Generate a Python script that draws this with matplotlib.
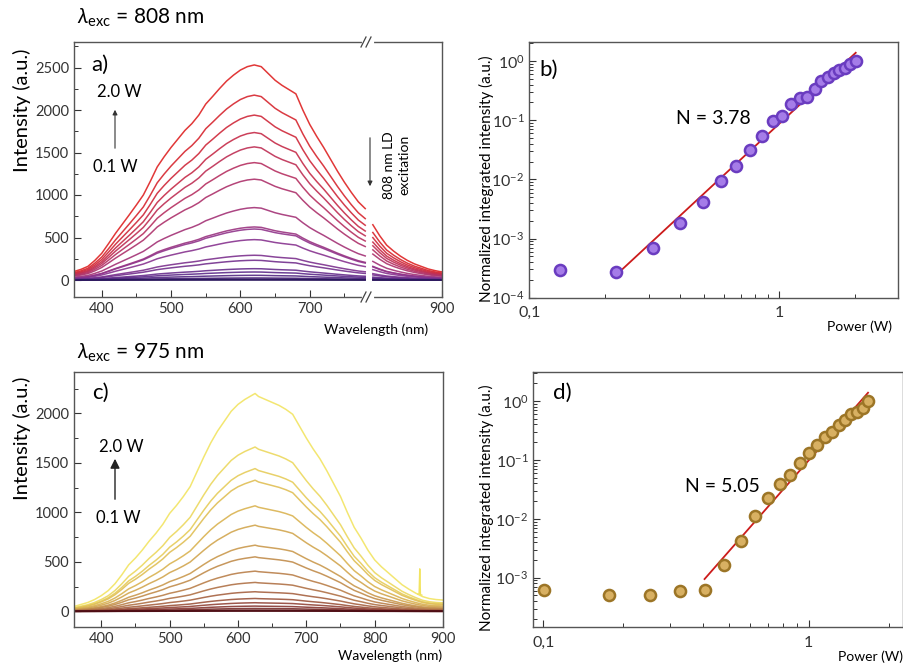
import numpy as np
import matplotlib
matplotlib.use('Agg')
import matplotlib.pyplot as plt
from matplotlib.colors import LinearSegmentedColormap
from matplotlib.lines import Line2D
from matplotlib.ticker import MultipleLocator, FixedLocator, NullFormatter, LogLocator, FuncFormatter

plt.rcParams['font.family'] = ['Lato', 'DejaVu Sans']
plt.rcParams['mathtext.fontset'] = 'custom'
plt.rcParams['mathtext.rm'] = 'Lato'
plt.rcParams['mathtext.it'] = 'Lato:italic'
plt.rcParams['mathtext.bf'] = 'Lato:bold'

# ---------------- data: panel a (808 nm excitation) ----------------
wl_a_left = [360, 370, 380, 390, 400, 410, 420, 430, 440, 450, 460, 470, 480, 490, 500,
             510, 520, 530, 540, 550, 560, 570, 580, 590, 600, 610, 620, 630, 640, 650,
             660, 670, 680, 690, 700, 710, 720, 730, 740, 750, 760, 770, 780]
top_a_left = [100, 125, 160, 230, 314, 430, 550, 660, 770, 883, 1000, 1160, 1330, 1450, 1560,
              1660, 1760, 1840, 1940, 2070, 2160, 2253, 2340, 2410, 2470, 2510, 2530, 2510, 2430, 2350,
              2290, 2240, 2190, 2000, 1830, 1690, 1560, 1420, 1280, 1150, 1030, 920, 840]
wl_a_right = [800, 810, 820, 830, 840, 850, 860, 870, 880, 890, 900]
top_a_right = [650, 520, 410, 340, 280, 230, 190, 160, 130, 110, 95]
peaks_a = [2530, 2175, 1940, 1735, 1566, 1381, 1186, 852, 624, 600, 475, 291, 232, 133, 94, 55, 24, 10, 4, 0]

# ---------------- data: panel c (975 nm excitation) ----------------
wl_c = [360, 370, 380, 390, 400, 410, 420, 430, 440, 450, 460, 470, 480, 490, 500,
        510, 520, 530, 540, 550, 560, 570, 580, 590, 600, 610, 620, 625, 630, 640,
        650, 660, 670, 680, 690, 700, 710, 720, 730, 740, 750, 760, 770, 780, 790,
        800, 810, 820, 830, 840, 850, 860, 870, 880, 890, 900]
top_c = [50, 70, 90, 120, 160, 210, 280, 370, 470, 540, 620, 710, 790, 880, 990,
         1070, 1160, 1260, 1410, 1560, 1700, 1820, 1920, 2020, 2090, 2140, 2180, 2200, 2170, 2140,
         2110, 2080, 2040, 1990, 1870, 1750, 1640, 1540, 1420, 1290, 1160, 1000, 850, 740, 620,
         520, 450, 390, 330, 270, 225, 185, 150, 130, 120, 115]
spike_wl = [863, 865, 866, 867, 869]
spike_val = [175, 175, 430, 170, 165]
peaks_c = [2200, 1660, 1442, 1325, 1066, 871, 669, 551, 407, 293, 199, 131, 88, 54, 30, 14, 5, 0]

# ---------------- data: panel b ----------------
power_b = [0.133, 0.222, 0.311, 0.402, 0.493, 0.584, 0.671, 0.763, 0.850, 0.940, 1.025,
           1.117, 1.206, 1.294, 1.389, 1.472, 1.566, 1.655, 1.738, 1.825, 1.917, 2.02]
int_b = [2.9e-4, 2.7e-4, 6.8e-4, 1.83e-3, 4.1e-3, 9.5e-3, 0.0168, 0.0317, 0.0547, 0.098, 0.117,
         0.188, 0.237, 0.243, 0.332, 0.459, 0.543, 0.635, 0.695, 0.761, 0.879, 1.0]
fit_b_x = [0.222, 2.02]
fit_b_y = [2.4e-4, 1.38]

# ---------------- data: panel d ----------------
power_d = [0.1005, 0.177, 0.252, 0.327, 0.405, 0.480, 0.556, 0.628, 0.705, 0.780, 0.851,
           0.928, 1.003, 1.078, 1.152, 1.221, 1.297, 1.374, 1.443, 1.520, 1.602, 1.672]
int_d = [6.1e-4, 5.15e-4, 5.1e-4, 6.0e-4, 6.2e-4, 1.66e-3, 4.14e-3, 0.0113, 0.0222, 0.0395, 0.0561,
         0.0875, 0.129, 0.181, 0.245, 0.298, 0.386, 0.476, 0.601, 0.650, 0.750, 1.0]
fit_d_x = [0.405, 1.672]
fit_d_y = [9.5e-4, 1.385]

W, H = 904, 666
fig = plt.figure(figsize=(W / 100, H / 100), dpi=100)


def fx(x):
    return x / W


def fy(y):
    return 1 - y / H


def rect(l, t, r, b):
    return [fx(l), fy(b), (r - l) / W, (b - t) / H]


spine_col = '#555555'
tick_kw = dict(direction='in', colors='#333333', labelsize=10.5, width=0.8)


def style(ax):
    for s in ax.spines.values():
        s.set_color(spine_col)
        s.set_linewidth(1.0)
    ax.tick_params(which='major', length=5, **tick_kw)
    ax.tick_params(which='minor', length=3, direction='in', colors='#333333', width=0.7)


cmap_a = LinearSegmentedColormap.from_list('a', ['#2a185c', '#5a2a8a', '#8c3490', '#b8305e', '#de2222'])
cmap_c = LinearSegmentedColormap.from_list('c', ['#4a0a12', '#8a3a34', '#b57848', '#d8b050', '#f2e462'])

# ---------------- panel a (broken axis) ----------------
axL = fig.add_axes(rect(74, 42, 368, 297))
axR = fig.add_axes(rect(368, 42, 442, 297), sharey=axL)
style(axL)
style(axR)
axL.spines['right'].set_visible(False)
axR.spines['left'].set_visible(False)
axR.tick_params(axis='y', which='both', left=False, labelleft=False)
axL.set_xlim(360, 784)
axR.set_xlim(793, 900)
axL.set_ylim(-200, 2800)
axL.xaxis.set_major_locator(FixedLocator([400, 500, 600, 700]))
axL.xaxis.set_minor_locator(FixedLocator([450, 550, 650, 750]))
axR.xaxis.set_major_locator(FixedLocator([900]))
axR.xaxis.set_minor_locator(FixedLocator([]))
axL.yaxis.set_major_locator(MultipleLocator(500))
axL.yaxis.set_minor_locator(MultipleLocator(250))

n_a = len(peaks_a)
tl = np.array(top_a_left, float)
tr = np.array(top_a_right, float)
for i in range(n_a):
    col = cmap_a(1 - i / (n_a - 1))
    k = peaks_a[i] / peaks_a[0]
    axL.plot(wl_a_left, tl * k, color=col, lw=1.1, alpha=0.9)
    axR.plot(wl_a_right, tr * k, color=col, lw=1.1, alpha=0.9)

# break marks
for yy in (42, 297):
    fig.add_artist(Line2D([fx(364), fx(372)], [fy(yy), fy(yy)], color='white', lw=3,
                          transform=fig.transFigure))
    for dx in (-2.5, 2.5):
        fig.add_artist(Line2D([fx(366 + dx - 2.5), fx(366 + dx + 2.5)], [fy(yy + 5), fy(yy - 5)],
                              color='#444444', lw=0.9, transform=fig.transFigure))

# ---------------- panel b ----------------
axb = fig.add_axes(rect(529.3, 42, 898.3, 297.7))
style(axb)
axb.set_xscale('log')
axb.set_yscale('log')
axb.set_xlim(0.1, 2.99)
axb.set_ylim(1e-4, 2.1)
axb.plot(fit_b_x, fit_b_y, color='#cc1b1b', lw=1.3, zorder=3)
axb.plot(power_b, int_b, 'o', ms=8, mfc='#a57ce8', mec='#6a3cc0', mew=1.8, zorder=4)

# ---------------- panel c ----------------
axc = fig.add_axes(rect(74, 371.7, 443, 627.3))
style(axc)
axc.set_xlim(360, 900)
axc.set_ylim(-160, 2420)
axc.xaxis.set_major_locator(MultipleLocator(100))
axc.xaxis.set_minor_locator(MultipleLocator(50))
axc.yaxis.set_major_locator(MultipleLocator(500))
axc.yaxis.set_minor_locator(MultipleLocator(250))
n_c = len(peaks_c)
tc = np.array(top_c, float)
for i in range(n_c):
    col = cmap_c(1 - i / (n_c - 1))
    k = peaks_c[i] / peaks_c[0]
    axc.plot(wl_c, tc * k, color=col, lw=1.1, alpha=0.9)
axc.plot(spike_wl, spike_val, color=cmap_c(1.0), lw=1.0)

# ---------------- panel d ----------------
axd = fig.add_axes(rect(533.3, 371.7, 903.3, 627.3))
style(axd)
axd.set_xscale('log')
axd.set_yscale('log')
axd.set_xlim(0.0917, 2.27)
axd.set_ylim(1.44e-4, 3.15)
axd.plot(fit_d_x, fit_d_y, color='#cc1b1b', lw=1.3, zorder=3)
axd.plot(power_d, int_d, 'o', ms=8, mfc='#d8b062', mec='#9c7526', mew=1.8, zorder=4)


def pow_fmt(v, pos):
    e = int(round(np.log10(v)))
    return r'$10^{%d}$' % e


for ax in (axb, axd):
    ax.xaxis.set_major_locator(FixedLocator([0.1, 1]))
    ax.xaxis.set_major_formatter(FuncFormatter(lambda v, p: '0,1' if v < 0.5 else '1'))
    ax.xaxis.set_minor_locator(LogLocator(base=10, subs=np.arange(2, 10), numticks=20))
    ax.xaxis.set_minor_formatter(NullFormatter())
    ax.yaxis.set_major_locator(LogLocator(base=10, numticks=10))
    ax.yaxis.set_major_formatter(FuncFormatter(pow_fmt))
    ax.yaxis.set_minor_locator(LogLocator(base=10, subs=np.arange(2, 10), numticks=20))
    ax.yaxis.set_minor_formatter(NullFormatter())
    ax.tick_params(labelsize=11.5)
    ax.tick_params(axis='x', which='major', pad=6)

# ---------------- texts ----------------
def T(x, y, s, **kw):
    fig.text(fx(x), fy(y), s, **kw)


T(77, 18, r'$\lambda_{\mathrm{exc}}$ = 808 nm', fontsize=15, va='center', ha='left')
T(77, 353, r'$\lambda_{\mathrm{exc}}$ = 975 nm', fontsize=15, va='center', ha='left')
T(91, 65, 'a)', fontsize=16, va='center')
T(539, 70, 'b)', fontsize=16, va='center')
T(92, 393, 'c)', fontsize=16, va='center')
T(553, 393, 'd)', fontsize=16, va='center')

T(97, 92, '2.0 W', fontsize=12, va='center')
T(93, 167, '0.1 W', fontsize=12, va='center')
fig.add_artist(matplotlib.patches.FancyArrowPatch((fx(115), fy(151)), (fx(115), fy(107)),
                                                  transform=fig.transFigure, arrowstyle='-|>',
                                                  mutation_scale=7, color='#333333', lw=0.8))
T(99, 447, '2.0 W', fontsize=12, va='center')
T(96, 518, '0.1 W', fontsize=12, va='center')
fig.add_artist(matplotlib.patches.FancyArrowPatch((fx(115), fy(502)), (fx(115), fy(456)),
                                                  transform=fig.transFigure, arrowstyle='-|>',
                                                  mutation_scale=14, color='#222222', lw=1.0))

T(397, 165, '808 nm LD\nexcitation', fontsize=10, rotation=90, va='center', ha='center',
  linespacing=1.3)
fig.add_artist(matplotlib.patches.FancyArrowPatch((fx(370), fy(135)), (fx(370), fy(189)),
                                                  transform=fig.transFigure, arrowstyle='-|>',
                                                  mutation_scale=7, color='#333333', lw=0.8))

T(676, 118, 'N = 3.78', fontsize=14, va='center')
T(685, 486, 'N = 5.05', fontsize=14, va='center')

T(22, 110, 'Intensity (a.u.)', fontsize=14.5, rotation=90, va='center', ha='center')
T(22, 438, 'Intensity (a.u.)', fontsize=14.5, rotation=90, va='center', ha='center')
T(486, 179, 'Normalized integrated intensity (a.u.)', fontsize=11, rotation=90, va='center', ha='center')
T(486, 508, 'Normalized integrated intensity (a.u.)', fontsize=11, rotation=90, va='center', ha='center')

T(428, 330, 'Wavelength (nm)', fontsize=10, va='center', ha='right')
T(442, 656, 'Wavelength (nm)', fontsize=10, va='center', ha='right')
T(892, 327, 'Power (W)', fontsize=10, va='center', ha='right')
T(903, 657, 'Power (W)', fontsize=10, va='center', ha='right')

fig.savefig('out.png', dpi=100)
